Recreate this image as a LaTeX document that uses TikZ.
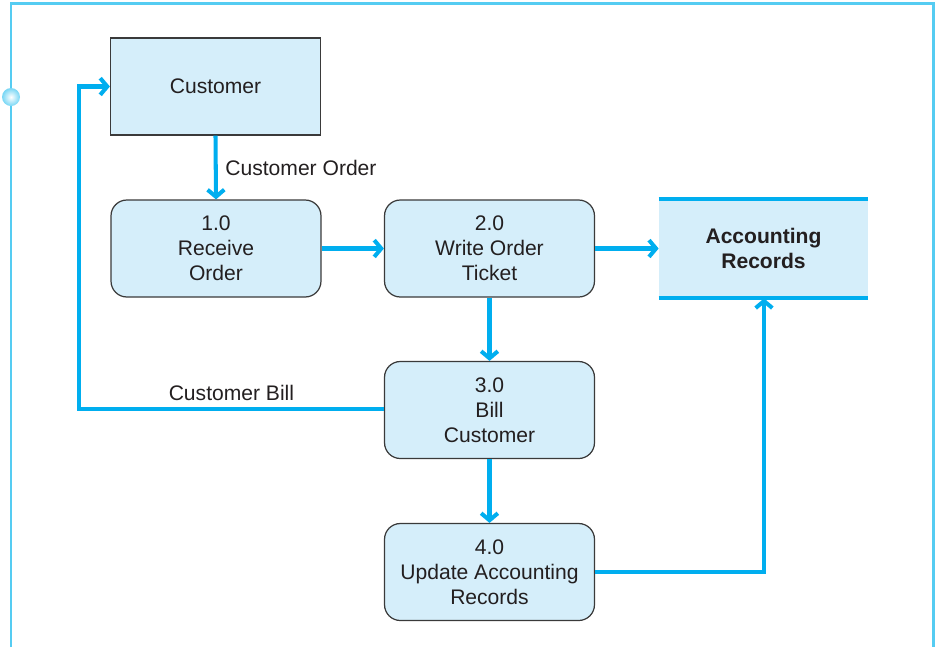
\documentclass[tikz,border=0pt]{standalone}
\usepackage{fontspec}
\setmainfont{Liberation Sans}
\usepackage{tikz}
\usetikzlibrary{arrows.meta,calc,positioning,shadings}
\definecolor{flowblue}{HTML}{00AEEF}
\definecolor{softblue}{HTML}{D5EEFA}
\definecolor{framecyan}{HTML}{55CCF2}
\definecolor{darkgray}{HTML}{3A3A3A}
\definecolor{inkblack}{HTML}{231F20}
\tikzset{
  flow/.style={flowblue, line width=2.3pt, -{Straight Barb[length=4pt,width=9.5pt]}},
  flowline/.style={flowblue, line width=2.3pt},
  entitybox/.style={draw=darkgray, line width=0.7pt, fill=softblue, text=inkblack, minimum width=4.2cm, minimum height=1.94cm, align=center, font=\fontsize{12}{14.2}\selectfont},
  processbox/.style={entitybox, rounded corners=9pt},
  storebox/.style={fill=softblue, text=inkblack, minimum width=4.18cm, minimum height=1.98cm, align=center, font=\fontsize{12}{14.2}\selectfont\bfseries},
  flowlabel/.style={text=inkblack, font=\fontsize{12}{14.2}\selectfont},
  frameline/.style={framecyan, line width=1.7pt}
}
\begin{document}
\begin{tikzpicture}[x=0.02cm, y=-0.02cm]
  \useasboundingbox (0,0) rectangle (936,647);
  % page frame
  \draw[frameline] (11,647) -- (11,3) -- (933,3) -- (933,647);
  \shade[inner color=white, outer color=framecyan!80] (11,97) circle (9);
  % entity, processes and store
  \node[entitybox] (customer) at (215.5,86.5) {Customer};
  \node[processbox] (receive) at (216,248.5) {1.0\\Receive\\Order};
  \node[processbox] (ticket) at (489.5,248.5) {2.0\\Write Order\\Ticket};
  \node[processbox] (bill) at (489.5,410) {3.0\\Bill\\Customer};
  \node[processbox] (update) at (489.5,572) {4.0\\Update Accounting\\Records};
  \node[storebox] (records) at (763.5,248.5) {Accounting\\Records};
  \draw[flowline] (records.north west) -- (records.north east);
  \draw[flowline] (records.south west) -- (records.south east);
  % data flows
  \draw[flow] (customer.south) -- node[flowlabel, right=1pt] (orderlabel) {Customer Order} (receive.north);
  \draw[flow] (receive) -- (ticket);
  \draw[flow] (ticket) -- (records);
  \draw[flow] (ticket) -- (bill);
  \draw[flow] (bill) -- (update);
  \coordinate (billcorner) at (79,409);
  \draw[flow] (bill.west |- billcorner) -- node[flowlabel, above, pos=0.5] (billlabel) {Customer Bill} (billcorner) |- (customer.west);
  \coordinate (updatecorner) at (764,572);
  \draw[flow] (update.east) -- (updatecorner) -- (records.south -| updatecorner);
\end{tikzpicture}
\end{document}
